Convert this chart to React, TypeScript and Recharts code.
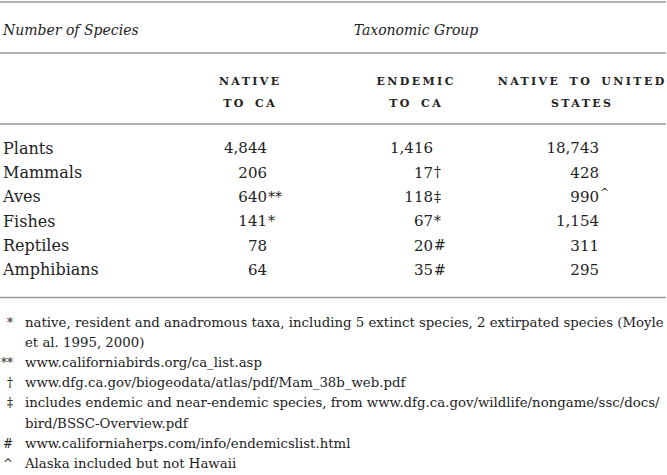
import { ComposedChart, Scatter, XAxis, YAxis, Customized } from "recharts";

const groups = ["Plants", "Mammals", "Aves", "Fishes", "Reptiles", "Amphibians"];
const columns = ["Native to CA", "Endemic to CA", "Native to United States"];
const columnHeaderLines = [
  ["NATIVE", "TO CA"],
  ["ENDEMIC", "TO CA"],
  ["NATIVE TO UNITED", "STATES"],
];

const nativeToCA = [4844, 206, 640, 141, 78, 64];
const nativeToCANotes = ["", "", "**", "*", "", ""];
const endemicToCA = [1416, 17, 118, 67, 20, 35];
const endemicToCANotes = ["", "†", "‡", "*", "#", "#"];
const nativeToUS = [18743, 428, 990, 1154, 311, 295];
const nativeToUSNotes = ["", "", "^", "", "", ""];

const footnoteMarks = ["*", "**", "†", "‡", "#", "^"];
const footnoteTexts = [
  ["native, resident and anadromous taxa, including 5 extinct species, 2 extirpated species (Moyle", "et al. 1995, 2000)"],
  ["www.californiabirds.org/ca_list.asp"],
  ["www.dfg.ca.gov/biogeodata/atlas/pdf/Mam_38b_web.pdf"],
  ["includes endemic and near-endemic species, from www.dfg.ca.gov/wildlife/nongame/ssc/docs/", "bird/BSSC-Overview.pdf"],
  ["www.californiaherps.com/info/endemicslist.html"],
  ["Alaska included but not Hawaii"],
];

const FONT = "'DejaVu Serif', serif";
const INK = "#222";
const RULE = "#999";
const HEADER_BASELINES = [85, 107];

const toRows = (col: string, values: number[], notes: string[]) =>
  groups.map((g, i) => ({ col, group: g, value: values[i], note: notes[i] }));

const series = [
  toRows(columns[0], nativeToCA, nativeToCANotes),
  toRows(columns[1], endemicToCA, endemicToCANotes),
  toRows(columns[2], nativeToUS, nativeToUSNotes),
];

// column header sits above the first row, centred on the column's band
const ColumnHeader = ({ cx, col }: { cx: number; col: string }) => {
  const lines = columnHeaderLines[columns.indexOf(col)] || [];
  return (
    <g>
      {lines.map((l, i) => (
        <text
          key={i}
          x={cx + 1.2}
          y={HEADER_BASELINES[i]}
          textAnchor="middle"
          fontFamily={FONT}
          fontSize={11}
          letterSpacing={2.4}
          wordSpacing={3}
          fontWeight={600}
          fill={INK}
        >
          {l}
        </text>
      ))}
    </g>
  );
};

const CellText = (props: any) => {
  const { cx, cy, payload } = props;
  if (cx == null || cy == null) return null;
  const x = cx + 18;
  return (
    <g>
      {payload.group === groups[0] && <ColumnHeader cx={cx} col={payload.col} />}
      <text x={x} y={cy} dy="0.35em" textAnchor="end" fontFamily={FONT} fontSize={15} fill={INK}>
        {payload.value.toLocaleString("en-US")}
      </text>
      {payload.note && (
        <text
          x={x + 1}
          y={cy}
          dy={payload.note === "^" ? "-0.1em" : "0.35em"}
          textAnchor="start"
          fontFamily={FONT}
          fontSize={payload.note === "^" ? 11 : 14}
          fill={INK}
        >
          {payload.note}
        </text>
      )}
    </g>
  );
};

const RowTick = (props: any) => {
  const { y, payload } = props;
  return (
    <text x={3} y={y} dy="0.35em" textAnchor="start" fontFamily={FONT} fontSize={16} fill={INK}>
      {payload.value}
    </text>
  );
};

const Decorations = () => {
  let line = 0;
  return (
    <g>
      {[2, 53, 124, 297.5].map((y) => (
        <line key={y} x1={0} x2={666} y1={y} y2={y} stroke={RULE} strokeWidth={1.5} />
      ))}
      <text x={3} y={35} fontFamily={FONT} fontStyle="italic" fontSize={14} fill={INK}>
        Number of Species
      </text>
      <text x={416} y={35} textAnchor="middle" fontFamily={FONT} fontStyle="italic" fontSize={14} fill={INK}>
        Taxonomic Group
      </text>
      {footnoteTexts.map((lines, k) => {
        const start = line;
        line += lines.length;
        return (
          <g key={k}>
            <text x={13} y={327 + start * 20.1} textAnchor="end" fontFamily={FONT} fontSize={12} fill={INK}>
              {footnoteMarks[k]}
            </text>
            {lines.map((t, j) => (
              <text key={j} x={25} y={327 + (start + j) * 20.1} fontFamily={FONT} fontSize={13.3} fill={INK}>
                {t}
              </text>
            ))}
          </g>
        );
      })}
    </g>
  );
};

export default function App() {
  return (
    <div style={{ position: "absolute", left: 0, top: 0, width: 667, height: 475, background: "#fff" }}>
      <ComposedChart width={667} height={475} margin={{ top: 136, right: 3, bottom: 193, left: 0 }}>
        <XAxis
          xAxisId={0}
          dataKey="col"
          type="category"
          scale="band"
          allowDuplicatedCategory={false}
          hide
        />
        <YAxis
          yAxisId={0}
          dataKey="group"
          type="category"
          scale="band"
          allowDuplicatedCategory={false}
          width={166}
          axisLine={false}
          tickLine={false}
          tickSize={0}
          tickMargin={0}
          interval={0}
          reversed
          tick={<RowTick />}
        />
        {series.map((d, i) => (
          <Scatter key={i} data={d} dataKey="group" shape={<CellText />} isAnimationActive={false} />
        ))}
        <Customized component={<Decorations />} />
      </ComposedChart>
    </div>
  );
}
